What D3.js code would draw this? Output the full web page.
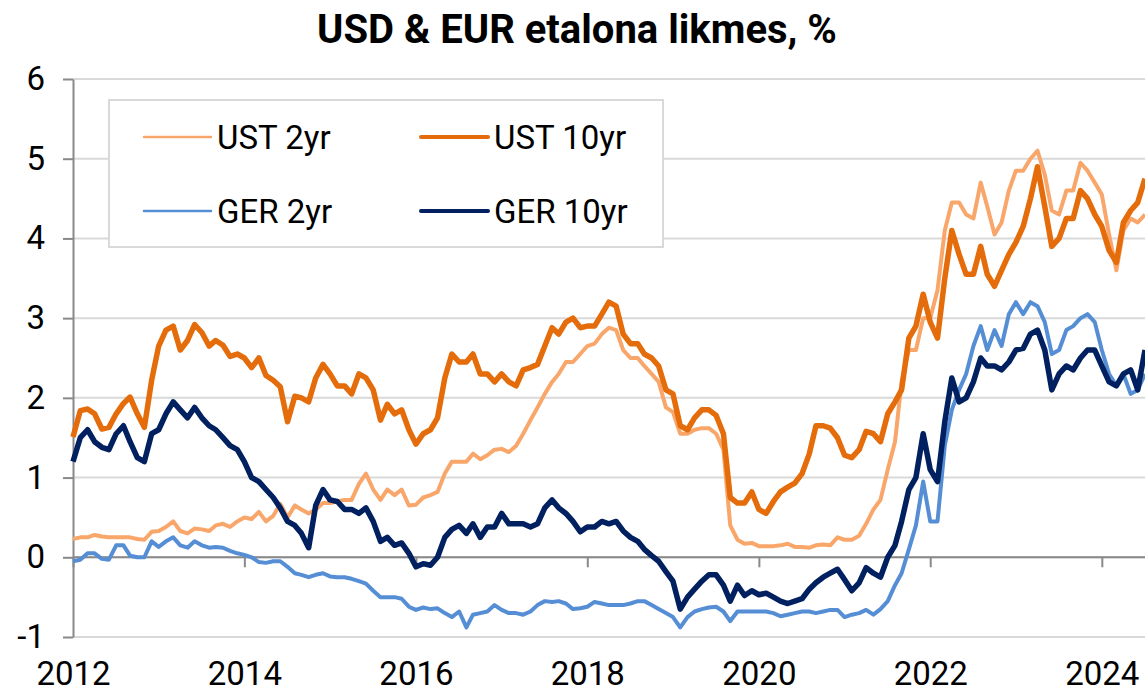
<!DOCTYPE html>
<html lang="lv">

<head>
  <meta charset="UTF-8">
  <title>USD & EUR etalona likmes</title>
  <script src="https://d3js.org/d3.v7.min.js"></script>
  <style>
    body {
      margin: 0;
      background: #fff;
    }

    text {
      font-family: Roboto, 'Open Sans', sans-serif;
      fill: #000;
    }

    .title {
      font-size: 40px;
      font-weight: bold;
    }

    .tick text {
      font-size: 33px;
    }

    .legend text {
      font-size: 33px;
    }
  </style>
</head>

<body>
  <script>
    // monthly values, first month = July 2012
    var firstMonth = "2012-07";

    var ust2 = [
      0.23, 0.25, 0.25, 0.28, 0.26, 0.25, 0.25, 0.25, 0.25, 0.23, 0.22, 0.32,
      0.33, 0.38, 0.45, 0.33, 0.30, 0.36, 0.35, 0.33, 0.40, 0.42, 0.38, 0.45,
      0.50, 0.48, 0.57, 0.45, 0.52, 0.67, 0.50, 0.65, 0.60, 0.55, 0.60, 0.68,
      0.68, 0.70, 0.72, 0.72, 0.92, 1.05, 0.85, 0.72, 0.85, 0.78, 0.85, 0.65,
      0.66, 0.75, 0.78, 0.82, 1.05, 1.20, 1.20, 1.20, 1.30, 1.23, 1.28, 1.35,
      1.36, 1.32, 1.40, 1.55, 1.72, 1.88, 2.05, 2.20, 2.30, 2.45, 2.45, 2.55,
      2.65, 2.68, 2.80, 2.88, 2.85, 2.60, 2.50, 2.50, 2.40, 2.30, 2.20, 1.88,
      1.82, 1.55, 1.55, 1.60, 1.62, 1.62, 1.55, 1.35, 0.40, 0.22, 0.17, 0.18,
      0.14, 0.14, 0.14, 0.15, 0.17, 0.13, 0.13, 0.12, 0.15, 0.16, 0.15, 0.25,
      0.22, 0.22, 0.27, 0.42, 0.60, 0.72, 1.10, 1.45, 2.20, 2.60, 2.60, 3.00,
      3.00, 3.35, 4.10, 4.45, 4.45, 4.30, 4.25, 4.70, 4.40, 4.05, 4.20, 4.60,
      4.85, 4.85, 5.00, 5.10, 4.80, 4.35, 4.30, 4.60, 4.60, 4.95, 4.85, 4.70,
      4.55, 4.05, 3.60, 4.10, 4.25, 4.20, 4.30
    ];

    var ust10 = [
      1.51, 1.84, 1.86, 1.80, 1.61, 1.63, 1.80, 1.93, 2.01, 1.80, 1.63, 2.22,
      2.65, 2.85, 2.90, 2.60, 2.72, 2.92, 2.82, 2.65, 2.72, 2.66, 2.52, 2.55,
      2.50, 2.38, 2.50, 2.28, 2.22, 2.14, 1.70, 2.02, 2.00, 1.95, 2.25, 2.42,
      2.30, 2.15, 2.15, 2.05, 2.30, 2.25, 2.10, 1.72, 1.92, 1.80, 1.85, 1.60,
      1.42, 1.55, 1.60, 1.75, 2.25, 2.55, 2.45, 2.45, 2.55, 2.30, 2.30, 2.20,
      2.30, 2.20, 2.15, 2.35, 2.38, 2.42, 2.65, 2.88, 2.80, 2.95, 3.00, 2.88,
      2.90, 2.90, 3.05, 3.20, 3.15, 2.80, 2.68, 2.68, 2.55, 2.50, 2.40, 2.10,
      2.05, 1.65, 1.60, 1.75, 1.85, 1.85, 1.78, 1.55, 0.75, 0.68, 0.68, 0.82,
      0.60, 0.55, 0.70, 0.82, 0.88, 0.93, 1.05, 1.30, 1.65, 1.65, 1.62, 1.50,
      1.28, 1.25, 1.35, 1.58, 1.55, 1.45, 1.80, 1.95, 2.10, 2.75, 2.90, 3.30,
      2.95, 2.75, 3.50, 4.10, 3.80, 3.55, 3.55, 3.90, 3.55, 3.40, 3.60, 3.80,
      3.95, 4.15, 4.50, 4.90, 4.40, 3.90, 4.00, 4.25, 4.25, 4.60, 4.50, 4.30,
      4.15, 3.85, 3.70, 4.20, 4.35, 4.45, 4.75
    ];

    var ger2 = [
      -0.05, -0.03, 0.05, 0.05, -0.02, -0.03, 0.15, 0.15, 0.02, 0.00, 0.00, 0.20,
      0.13, 0.20, 0.25, 0.15, 0.12, 0.20, 0.15, 0.12, 0.13, 0.12, 0.08, 0.05,
      0.03, 0.00, -0.06, -0.07, -0.05, -0.05, -0.12, -0.20, -0.22, -0.25, -0.22, -0.20,
      -0.24, -0.25, -0.25, -0.27, -0.30, -0.33, -0.42, -0.50, -0.50, -0.50, -0.52, -0.62,
      -0.66, -0.63, -0.65, -0.64, -0.70, -0.75, -0.68, -0.88, -0.72, -0.70, -0.68, -0.60,
      -0.66, -0.70, -0.70, -0.72, -0.68, -0.60, -0.55, -0.56, -0.55, -0.58, -0.65, -0.64,
      -0.62, -0.56, -0.58, -0.60, -0.60, -0.60, -0.58, -0.55, -0.55, -0.60, -0.65, -0.70,
      -0.75, -0.88, -0.75, -0.68, -0.65, -0.63, -0.62, -0.68, -0.80, -0.68, -0.68, -0.68,
      -0.68, -0.68, -0.70, -0.74, -0.72, -0.70, -0.68, -0.68, -0.70, -0.68, -0.66, -0.66,
      -0.75, -0.72, -0.70, -0.66, -0.72, -0.65, -0.55, -0.35, -0.20, 0.10, 0.40, 0.95,
      0.45, 0.45, 1.40, 1.85, 2.10, 2.30, 2.65, 2.90, 2.60, 2.85, 2.65, 3.05,
      3.20, 3.05, 3.20, 3.15, 2.95, 2.55, 2.60, 2.85, 2.90, 3.00, 3.05, 2.95,
      2.60, 2.30, 2.15, 2.30, 2.05, 2.10, 2.30
    ];

    var ger10 = [
      1.20, 1.50, 1.60, 1.45, 1.38, 1.35, 1.55, 1.65, 1.45, 1.25, 1.20, 1.55,
      1.60, 1.80, 1.95, 1.85, 1.75, 1.88, 1.75, 1.65, 1.60, 1.50, 1.40, 1.35,
      1.20, 1.00, 0.95, 0.85, 0.75, 0.62, 0.45, 0.40, 0.30, 0.12, 0.65, 0.85,
      0.72, 0.70, 0.60, 0.60, 0.55, 0.62, 0.45, 0.20, 0.25, 0.15, 0.18, 0.05,
      -0.12, -0.08, -0.10, 0.00, 0.25, 0.35, 0.40, 0.30, 0.42, 0.25, 0.38, 0.38,
      0.55, 0.42, 0.42, 0.42, 0.38, 0.42, 0.62, 0.72, 0.62, 0.55, 0.45, 0.32,
      0.38, 0.38, 0.45, 0.42, 0.45, 0.33, 0.25, 0.20, 0.10, 0.02, -0.05, -0.18,
      -0.30, -0.65, -0.50, -0.40, -0.30, -0.22, -0.22, -0.35, -0.55, -0.35, -0.48, -0.42,
      -0.47, -0.45, -0.50, -0.55, -0.58, -0.55, -0.52, -0.40, -0.32, -0.25, -0.20, -0.15,
      -0.28, -0.42, -0.32, -0.13, -0.20, -0.25, 0.00, 0.15, 0.45, 0.85, 1.00, 1.55,
      1.10, 0.95, 1.70, 2.25, 1.95, 2.00, 2.20, 2.50, 2.40, 2.40, 2.35, 2.45,
      2.60, 2.62, 2.80, 2.85, 2.60, 2.10, 2.30, 2.40, 2.35, 2.50, 2.60, 2.60,
      2.40, 2.20, 2.15, 2.30, 2.35, 2.10, 2.60
    ];

    var seriesNames = ["UST 2yr", "UST 10yr", "GER 2yr", "GER 10yr"];
    var yTicks = [-1, 0, 1, 2, 3, 4, 5, 6];
    var xTickYears = ["2012", "2014", "2016", "2018", "2020", "2022", "2024"];

    var colors = ["#f9a66b", "#e46c0a", "#558ed5", "#002060"];
    var widths = [4, 5.5, 4, 5.5];

    var width = 1145, height = 694;
    var margin = { top: 79, right: 0, bottom: 57, left: 73 };

    var parseMonth = d3.timeParse("%Y-%m");
    var start = parseMonth(firstMonth);
    var months = d3.timeMonth.range(start, d3.timeMonth.offset(start, ust2.length));

    // axis labels sit on the July of each year (the first date of the data)
    var tickDates = xTickYears.map(function (y) { return parseMonth(y + "-07"); });

    var x = d3.scaleTime()
      .domain([start, parseMonth("2025-01")])
      .range([margin.left, width - margin.right]);

    var y = d3.scaleLinear()
      .domain([-1, 6])
      .range([height - margin.bottom, margin.top]);

    var svg = d3.select("body").append("svg")
      .attr("width", width)
      .attr("height", height);

    svg.append("text")
      .attr("class", "title")
      .attr("x", 577)
      .attr("y", 43)
      .attr("text-anchor", "middle")
      .text("USD & EUR etalona likmes, %");

    // horizontal grid
    svg.append("g")
      .selectAll("line")
      .data(yTicks)
      .enter().append("line")
      .attr("x1", margin.left)
      .attr("x2", width)
      .attr("y1", function (d) { return y(d); })
      .attr("y2", function (d) { return y(d); })
      .attr("stroke", "#d9d9d9")
      .attr("stroke-width", 2);

    // y axis
    var yAxis = svg.append("g")
      .attr("transform", "translate(" + margin.left + ",0)")
      .call(d3.axisLeft(y).tickValues(yTicks).tickSize(10).tickPadding(18).tickSizeOuter(0)
        .tickFormat(function (d) { return String(d); }));

    yAxis.select(".domain").attr("stroke", "#898989").attr("stroke-width", 2);
    yAxis.selectAll(".tick line").attr("stroke", "#898989").attr("stroke-width", 2);
    yAxis.selectAll(".tick text").attr("font-family", null).attr("font-size", null);

    // x axis line at zero
    var xAxis = svg.append("g")
      .attr("transform", "translate(0," + y(0) + ")")
      .call(d3.axisBottom(x).tickValues(tickDates).tickSize(10).tickSizeOuter(0).tickFormat(""));

    xAxis.select(".domain")
      .attr("d", "M" + margin.left + ",0H" + width)
      .attr("stroke", "#898989").attr("stroke-width", 2);
    xAxis.selectAll(".tick line").attr("stroke", "#898989").attr("stroke-width", 2);

    // year labels at the bottom
    var xLabels = svg.append("g")
      .attr("transform", "translate(0,662)")
      .call(d3.axisBottom(x).tickValues(tickDates).tickSize(0).tickPadding(0).tickFormat(d3.timeFormat("%Y")));

    xLabels.select(".domain").remove();
    xLabels.selectAll(".tick text").attr("font-family", null).attr("font-size", null);

    var line = d3.line()
      .x(function (d, i) { return x(months[i]); })
      .y(function (d) { return y(d); });

    var allSeries = [ust2, ust10, ger2, ger10];

    svg.append("g")
      .selectAll("path")
      .data(allSeries)
      .enter().append("path")
      .attr("fill", "none")
      .attr("stroke", function (d, i) { return colors[i]; })
      .attr("stroke-width", function (d, i) { return widths[i]; })
      .attr("stroke-linejoin", "round")
      .attr("d", line);

    // legend
    var legend = svg.append("g").attr("class", "legend");

    legend.append("rect")
      .attr("x", 109)
      .attr("y", 100)
      .attr("width", 554)
      .attr("height", 147)
      .attr("fill", "#fff")
      .attr("stroke", "#d9d9d9")
      .attr("stroke-width", 2);

    var item = legend.selectAll(".item")
      .data(seriesNames)
      .enter().append("g")
      .attr("class", "item")
      .attr("transform", function (d, i) {
        return "translate(" + (i % 2 === 0 ? 144 : 421) + "," + (i < 2 ? 137 : 211) + ")";
      });

    item.append("line")
      .attr("x1", 0)
      .attr("x2", 67)
      .attr("stroke", function (d, i) { return colors[i]; })
      .attr("stroke-width", function (d, i) { return widths[i] - 1.5; })
      .attr("stroke-linecap", "round");

    item.append("text")
      .attr("x", 73)
      .attr("dy", "0.35em")
      .text(function (d) { return d; });
  </script>
</body>

</html>
